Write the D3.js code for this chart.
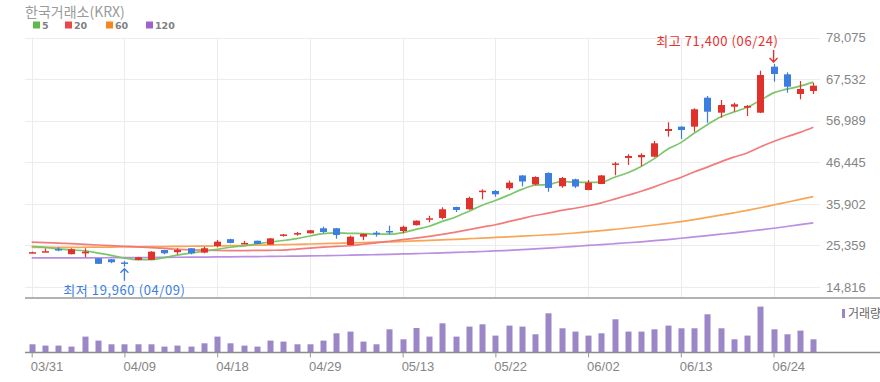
<!DOCTYPE html>
<html><head><meta charset="utf-8">
<script src="https://cdn.jsdelivr.net/npm/d3@7"></script>
<style>body{margin:0;background:#fff}svg{display:block}</style>
</head><body><svg id="c" width="880" height="382"></svg>
<script>
const dates=["03/31","04/01","04/02","04/03","04/04","04/07","04/08","04/09","04/10","04/11",
"04/14","04/15","04/16","04/17","04/18","04/21","04/22","04/23","04/24","04/25",
"04/28","04/29","04/30","05/02","05/07","05/08","05/09","05/12","05/13","05/14",
"05/15","05/16","05/19","05/20","05/21","05/22","05/23","05/26","05/27","05/28",
"05/29","05/30","06/02","06/04","06/05","06/09","06/10","06/11","06/12","06/13",
"06/16","06/17","06/18","06/19","06/20","06/23","06/24","06/25","06/26","06/27"];
const openP=[23550,23800,24450,23150,23350,22100,21850,21050,21700,21700,
24200,23650,24650,23550,25230,26950,25800,26550,25600,27850,
28300,28450,29720,29720,25480,27580,28600,29030,29030,30500,
31990,32330,35120,34540,38930,39180,39870,43120,40830,43750,
40380,42150,39430,40960,45830,47560,47730,47880,54400,55500,
55500,62850,59050,60570,60320,59050,70720,68780,63790,64550];
const highP=[23800,24600,24900,24650,24650,22150,21900,21400,22450,23900,
24250,24650,24700,25050,26750,27050,26500,26600,27250,28250,
28780,29300,30130,29800,27840,28350,29030,30380,30380,31700,
32910,35040,35200,37730,39610,39430,41800,43200,42900,43900,
42730,42300,41970,43200,46540,48500,48750,51870,56610,55600,
60160,63280,62270,61580,61000,69700,71400,69290,67090,66660];
const lowP=[23500,23800,23900,23100,22350,20650,20850,19960,21600,21650,
23100,23100,23100,23380,24900,25900,25700,25700,25550,27600,
27840,28400,28450,27080,25400,26680,27580,28200,28450,30450,
31230,32000,33850,34450,37080,37730,39430,40330,40700,38980,
40000,39940,39350,40900,43170,45780,45520,47730,52960,52370,
54220,56510,57780,59300,58210,58950,66910,64120,62450,63790];
const closeP=[23650,23900,24300,24400,23800,20700,21100,20800,22350,23780,
23380,24200,23380,24650,26320,26000,26000,25750,27150,28150,
28500,29200,28780,28020,27580,28270,28400,28780,30080,31650,
32250,34540,34360,37400,39260,38340,41290,41590,42730,39950,
42480,40320,41290,43120,46160,48060,48320,51280,54910,54660,
59910,59300,61000,61180,60750,68610,68860,65640,65060,65900];
const volume=[800000,670000,670000,570000,1570000,1170000,800000,800000,800000,800000,
570000,670000,570000,900000,1570000,900000,670000,570000,1170000,1070000,
800000,800000,1170000,1900000,2070000,1070000,800000,2300000,1300000,2430000,
1570000,2900000,1570000,2570000,2800000,1670000,2670000,2570000,1800000,3900000,
2400000,2070000,1670000,1900000,3300000,2070000,2070000,2300000,2670000,2400000,
2400000,3800000,2400000,1300000,1670000,4570000,2300000,1800000,2170000,1300000];
const ma5=[25100,24850,24470,24210,24010,23420,22860,22160,21750,21750,
22280,22900,23420,23880,24390,24910,25270,25740,26240,26610,
27110,27750,28360,28530,28420,28370,28210,28210,28620,29440,
30230,31460,32580,34040,35560,36780,38130,39580,40640,40780,
41610,41410,41350,41430,42670,43790,45390,47390,49750,51450,
53820,56010,57960,59210,60430,62170,64080,65010,65780,66810];
const ma20=[26200,26080,25950,25800,25650,25480,25300,25150,25000,24800,
24600,24400,24250,24150,24080,24050,24060,24090,24130,24190,
24430,24700,24920,25100,25290,25670,26030,26430,26820,27210,
27660,28170,28720,29360,30010,30620,31390,32180,32960,33550,
34250,34800,35430,36180,37110,38100,39100,40220,41470,42620,
44000,45240,46570,47760,48830,50350,51720,52930,54040,55340];
const ma60=[24850,24860,24870,24880,24900,24920,24950,24975,25010,25040,
25080,25110,25150,25190,25230,25290,25350,25410,25480,25560,
25640,25730,25820,25910,26000,26090,26180,26270,26370,26500,
26640,26780,26920,27070,27220,27385,27550,27720,27890,28070,
28270,28520,28780,29100,29440,29790,30160,30550,30960,31390,
31920,32470,33040,33640,34260,34920,35630,36330,37030,37740];
const ma120=[22190,22195,22200,22210,22220,22230,22245,22260,22280,22300,
22330,22360,22390,22410,22440,22470,22500,22540,22580,22620,
22650,22690,22750,22810,22880,22950,23030,23110,23200,23290,
23380,23480,23590,23710,23830,23960,24120,24300,24490,24690,
24900,25120,25360,25570,25800,26040,26290,26560,26860,27180,
27520,27860,28210,28570,28940,29320,29720,30160,30620,31100];
const yTicks=[78075,67532,56989,46445,35902,25359,14816];
const xTickDates=["03/31","04/09","04/18","04/29","05/13","05/22","06/02","06/13","06/24"];
const maNames=["5","20","60","120"];
const maColors=["#74c462","#f17575","#f8a14c","#b688df"];
const legendColors=["#5cb94d","#e9484b","#f5861f","#9d63cf"];
const lowLabel="최저 19,960 (04/09)";
const highLabel="최고 71,400 (06/24)";
const lowIdx=7, highIdx=56;

const svg=d3.select('#c');
const x=d3.scalePoint().domain(dates).range([31.7,813.3]);
const y=d3.scaleLinear().domain([14816,78075]).range([287,37.7]);
const yv=d3.scaleLinear().domain([0,5000000]).range([352.3,302.3]);
const fontLat="'Liberation Sans', Arial, sans-serif";
const fontKr="'Noto Sans CJK KR', sans-serif";

// title
svg.append('text').attr('x',25).attr('y',17).attr('font-family',fontKr).attr('font-size',14)
  .attr('fill','#9a9a9a').text('한국거래소(KRX)');
// legend
const legX=[33,65,106,146];
maNames.forEach((n,i)=>{
  svg.append('rect').attr('x',legX[i]).attr('y',21.5).attr('width',7).attr('height',7).attr('fill',legendColors[i]);
  svg.append('text').attr('x',legX[i]+9).attr('y',28.6).attr('font-family',"'DejaVu Sans', sans-serif")
    .attr('font-weight','bold').attr('font-size',9.5).attr('fill','#808080').text(n);
});

// grid
svg.append('g').selectAll('line').data(yTicks).join('line')
  .attr('x1',25).attr('x2',820).attr('y1',d=>Math.round(y(d))+0.5).attr('y2',d=>Math.round(y(d))+0.5)
  .attr('stroke','#ececec');
svg.append('g').selectAll('line').data(xTickDates).join('line')
  .attr('x1',d=>Math.round(x(d))+0.5).attr('x2',d=>Math.round(x(d))+0.5).attr('y1',37.7).attr('y2',298)
  .attr('stroke','#ececec');

// y axis labels
const yAxis=svg.append('g').attr('transform','translate(820,0)')
  .call(d3.axisRight(y).tickValues(yTicks).tickFormat(d3.format(',')).tickSize(0).tickPadding(6));
yAxis.select('.domain').remove();
yAxis.selectAll('text').attr('font-family',fontLat).attr('font-size',13).attr('fill','#858585');

// MA lines
const mas=[ma5,ma20,ma60,ma120];
const line=d3.line().x((d,i)=>x(dates[i])).y(d=>y(d)).curve(d3.curveMonotoneX);
[3,2,1,0].forEach(k=>{
  svg.append('path').attr('d',line(mas[k])).attr('fill','none').attr('stroke',maColors[k])
    .attr('stroke-width',1.7).attr('stroke-opacity',0.95);
});

// candles
const up='#e0312b', dn='#3b7ee0';
const cg=svg.append('g');
dates.forEach((d,i)=>{
  const col=closeP[i]>=openP[i]?up:dn;
  const cx=Math.round(x(d))+0.5;
  cg.append('line').attr('x1',cx).attr('x2',cx).attr('y1',y(highP[i])).attr('y2',y(lowP[i]))
    .attr('stroke',col).attr('stroke-width',1.2);
  const t=y(Math.max(openP[i],closeP[i])), b=y(Math.min(openP[i],closeP[i]));
  cg.append('rect').attr('x',cx-3.5).attr('width',7).attr('y',t).attr('height',Math.max(1.5,b-t)).attr('fill',col);
});

// low / high annotations
const lx=x(dates[lowIdx]), ly=y(lowP[lowIdx]);
svg.append('path').attr('d',`M${lx},${ly+14}V${ly+2}M${lx-4},${ly+6}L${lx},${ly+2}L${lx+4},${ly+6}`)
  .attr('stroke','#3b7ee0').attr('stroke-width',1.3).attr('fill','none');
svg.append('text').attr('x',lx).attr('y',295).attr('text-anchor','middle').attr('font-family',fontKr)
  .attr('font-size',13).attr('letter-spacing',0.6).attr('fill','#3b7ee0').text(lowLabel);
const hx=x(dates[highIdx]), hy=y(highP[highIdx]);
svg.append('path').attr('d',`M${hx},${hy-14}V${hy-2}M${hx-4},${hy-6}L${hx},${hy-2}L${hx+4},${hy-6}`)
  .attr('stroke','#e0312b').attr('stroke-width',1.3).attr('fill','none');
svg.append('text').attr('x',hx+5).attr('y',45.5).attr('text-anchor','end').attr('font-family',fontKr)
  .attr('font-size',13).attr('letter-spacing',0.6).attr('fill','#e8312f').text(highLabel);

// frame lines
svg.append('line').attr('x1',25).attr('x2',880).attr('y1',298).attr('y2',298).attr('stroke','#999').attr('stroke-width',1.5);

// volume
svg.append('g').selectAll('rect').data(volume).join('rect')
  .attr('x',(d,i)=>Math.round(x(dates[i]))-2.5).attr('width',6)
  .attr('y',d=>yv(d)).attr('height',d=>yv(0)-yv(d)).attr('fill','#9b86c8');
svg.append('line').attr('x1',25).attr('x2',880).attr('y1',352.5).attr('y2',352.5).attr('stroke','#8c8c8c').attr('stroke-width',1.5);
svg.append('rect').attr('x',842).attr('y',309).attr('width',3).attr('height',9).attr('fill','#9b86c8');
svg.append('text').attr('x',848).attr('y',318).attr('font-family',fontKr).attr('font-size',12).attr('fill','#666').text('거래량');

// x axis
const xAxis=svg.append('g').attr('transform','translate(0,352.5)')
  .call(d3.axisBottom(x).tickValues(xTickDates).tickSize(5).tickPadding(0));
xAxis.select('.domain').remove();
xAxis.selectAll('line').attr('stroke','#999');
xAxis.selectAll('text').attr('font-family',fontLat).attr('font-size',13).attr('fill','#858585')
  .attr('text-anchor','start').attr('x',-1.5).attr('y',9).attr('dy','0.71em');
</script></body></html>
